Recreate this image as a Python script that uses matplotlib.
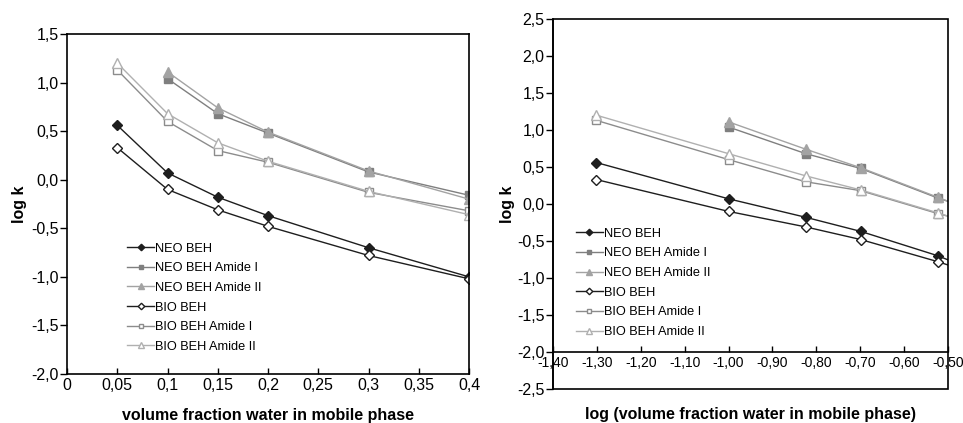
import numpy as np
import matplotlib
matplotlib.use('Agg')
import matplotlib.pyplot as plt
from matplotlib.ticker import FuncFormatter, MultipleLocator
from matplotlib.patches import Rectangle

plt.rcParams['font.family'] = ['Liberation Sans', 'DejaVu Sans']

# volume fraction of water in mobile phase
water = [0.05, 0.10, 0.15, 0.20, 0.30, 0.40]

series_names = ['NEO BEH', 'NEO BEH Amide I', 'NEO BEH Amide II',
                'BIO BEH', 'BIO BEH Amide I', 'BIO BEH Amide II']

neo_beh = [0.56, 0.07, -0.18, -0.37, -0.70, -1.00]
neo_amide1 = [np.nan, 1.04, 0.68, 0.48, 0.08, -0.16]
neo_amide2 = [np.nan, 1.11, 0.74, 0.49, 0.09, -0.20]
bio_beh = [0.33, -0.10, -0.31, -0.48, -0.78, -1.02]
bio_amide1 = [1.13, 0.60, 0.30, 0.18, -0.13, -0.32]
bio_amide2 = [1.20, 0.68, 0.38, 0.19, -0.12, -0.36]

series = [neo_beh, neo_amide1, neo_amide2, bio_beh, bio_amide1, bio_amide2]

# style per series: colour, marker, filled
styles = [
    ('#1e1e1e', 'D', True),
    ('#7f7f7f', 's', True),
    ('#a3a3a3', '^', True),
    ('#1e1e1e', 'D', False),
    ('#8c8c8c', 's', False),
    ('#b0b0b0', '^', False),
]
msizes = {'D': 5.5, 's': 6, '^': 7}


def comma(fmt):
    return FuncFormatter(lambda v, p: fmt(v).replace('.', ','))


def draw(ax, x):
    for name, y, (c, m, filled) in zip(series_names, series, styles):
        ax.plot(x, y, color=c, lw=1.0, marker=m, ms=msizes[m],
                mfc=c if filled else 'white', mec=c, mew=1.0, label=name)


def add_legend(ax, anchor):
    ax.legend(loc='lower left', bbox_to_anchor=anchor, frameon=False,
              fontsize=9.2, handlelength=2.1, handletextpad=0.1,
              labelspacing=0.6, borderaxespad=0, markerscale=0.6)


fig = plt.figure(figsize=(9.63, 4.23), dpi=100)

# ---- left: log k vs volume fraction ----
ax1 = fig.add_axes([0.0696, 0.1158, 0.4175, 0.8038])
draw(ax1, water)
ax1.set_xlim(0, 0.4)
ax1.set_ylim(-2.0, 1.5)
ax1.xaxis.set_major_locator(MultipleLocator(0.05))
ax1.yaxis.set_major_locator(MultipleLocator(0.5))
ax1.xaxis.set_major_formatter(comma(lambda v: ('%.2f' % v).rstrip('0').rstrip('.') if abs(v) > 1e-9 else '0'))
ax1.yaxis.set_major_formatter(comma(lambda v: '%.1f' % v))
ax1.set_xlabel('volume fraction water in mobile phase', fontsize=11.5, fontweight='bold')
ax1.set_ylabel('log k', fontsize=11.5, fontweight='bold')
ax1.xaxis.set_label_coords(0.5, -0.1)
ax1.yaxis.set_label_coords(-0.1, 0.5)
add_legend(ax1, (0.137, 0.047))
ax1.tick_params(axis='x', labelsize=11.5)

# ---- right: log k vs log volume fraction ----
ax2 = fig.add_axes([0.5742, 0.0804, 0.4102, 0.8747])
draw(ax2, np.log10(water))
ax2.set_xlim(-1.40, -0.50)
ax2.set_ylim(-2.5, 2.5)
ax2.spines['bottom'].set_position(('data', -2.0))
ax2.spines['top'].set_visible(False)
ax2.spines['right'].set_visible(False)
ax2.add_patch(Rectangle((0, 0), 1, 1, transform=ax2.transAxes, fill=False,
                        ec='black', lw=1.2, clip_on=False, zorder=5))
ax2.xaxis.set_major_locator(MultipleLocator(0.1))
ax2.yaxis.set_major_locator(MultipleLocator(0.5))
ax2.xaxis.set_major_formatter(comma(lambda v: '%.2f' % v))
ax2.yaxis.set_major_formatter(comma(lambda v: '%.1f' % v))
ax2.set_xlabel('log (volume fraction water in mobile phase)', fontsize=11.5, fontweight='bold')
ax2.set_ylabel('log k', fontsize=11.5, fontweight='bold')
ax2.xaxis.set_label_coords(0.5, -0.05)
ax2.yaxis.set_label_coords(-0.097, 0.5)
add_legend(ax2, (0.045, 0.124))
ax2.tick_params(axis='x', labelsize=10)

for ax in (ax1, ax2):
    for s in ax.spines.values():
        s.set_linewidth(1.2)
    ax.tick_params(axis='y', direction='out', length=5, width=1, labelsize=11.5, pad=1)
    ax.tick_params(axis='x', direction='in', length=4, width=1, pad=3)

fig.savefig('out.png', dpi=100)
